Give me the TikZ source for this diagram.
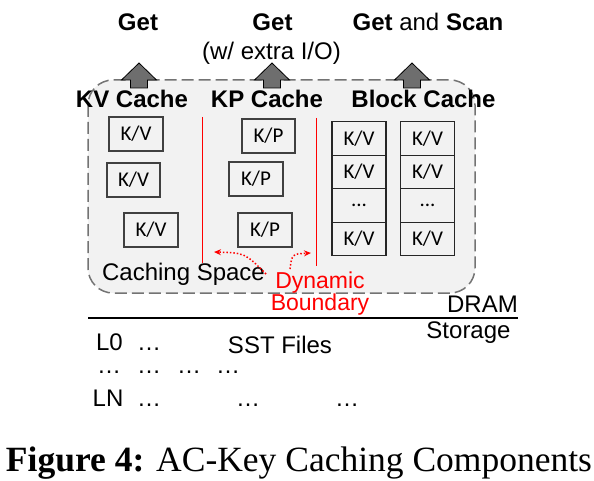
\documentclass[tikz,border=0pt]{standalone}
\usepackage{fontspec}
\setmainfont{Liberation Sans}
\newfontfamily\boxfont{Carlito}
\newfontfamily\capfont{Liberation Serif}
\usetikzlibrary{positioning, arrows.meta}
\tikzstyle{lbl} = [font=\fontsize{24}{26}\selectfont, inner sep=0pt, anchor=base]
\tikzstyle{head} = [lbl, font=\fontsize{24}{26}\selectfont\bfseries]
\tikzstyle{entry} = [rectangle, draw=black!75, line width=1.2pt, minimum width=54pt, minimum height=34pt, inner sep=0pt, font=\boxfont\fontsize{21}{22}\selectfont]
\tikzstyle{cell} = [entry, draw=black!85, minimum height=33.5pt, outer sep=0pt]
\tikzstyle{fatarrow} = [draw=black, line width=0.8pt, fill=black!57]
\tikzstyle{bound} = [red, line width=0.9pt]
\tikzstyle{boundmove} = [red, dotted, line width=1.5pt, -{Stealth[length=7pt,width=6pt]}]
\newcommand{\getarrow}[1]{\draw [fatarrow] (#1) -- ++(17.5,17) -- ++(-9,0) -- ++(0,8) -- ++(-17,0) -- ++(0,-8) -- ++(-9,0) -- cycle;}

\begin{document}
\begin{tikzpicture}[x=1pt, y=-1pt]
        \useasboundingbox (0,0) rectangle (594,481);
        % caching space
        \draw [black!55, dashed, dash pattern=on 12pt off 5pt, line width=1.5pt, fill=black!5, rounded corners=25pt] (88,80) rectangle (475,293);

        % requests
        \node (getkv) [head] at (138,31) {Get};
        \node (getkp) [head] at (272.5,31) {Get};
        \node (extra) [lbl] at (271.5,60) {(w/ extra I/O)};
        \node (getblk) [lbl] at (428,31) {\textbf{Get} and \textbf{Scan}};

        \coordinate (kvtip) at (139,63);
        \coordinate (kptip) at (272,63);
        \coordinate (blktip) at (412,63);
        \getarrow{kvtip}
        \getarrow{kptip}
        \getarrow{blktip}

        % caches
        \node (kvcache) [head] at (132,107.5) {KV Cache};
        \node (kpcache) [head] at (267,107.5) {KP Cache};
        \node (blkcache) [head] at (423.5,107.5) {Block Cache};

        \node (kv1) [entry] at (136,134) {K/V};
        \node (kv2) [entry, minimum width=53pt] at (133.5,180) {K/V};
        \node (kv3) [entry] at (151,230) {K/V};

        \node (kp1) [entry, minimum width=53pt] at (268.5,136) {K/P};
        \node (kp2) [entry] at (256,179) {K/P};
        \node (kp3) [entry] at (265,230) {K/P};

        \node (blka1) [cell] at (359,138.5) {K/V};
        \node (blka2) [cell, below=0pt of blka1] {K/V};
        \node (blka3) [cell, below=0pt of blka2] {...};
        \node (blka4) [cell, below=0pt of blka3] {K/V};
        \node (blkb1) [cell] at (427.5,138.5) {K/V};
        \node (blkb2) [cell, below=0pt of blkb1] {K/V};
        \node (blkb3) [cell, below=0pt of blkb2] {...};
        \node (blkb4) [cell, below=0pt of blkb3] {K/V};

        % dynamic boundary
        \coordinate (bnda) at (202,117);
        \coordinate (bndb) at (316,118);
        \draw [bound] (bnda) -- (202,263);
        \draw [bound] (bndb) -- (316,266);
        \node (space) [lbl] at (183.5,280) {Caching Space};
        \node (dyn) [lbl, red, align=center, anchor=base, font=\fontsize{23}{20}\selectfont] at (320,310.5) {Dynamic\\Boundary};
        \coordinate (dynl) at (266,274);
        \coordinate (dynr) at (290,269);
        \coordinate (tipl) at (214,252);
        \coordinate (tipr) at (311,253);
        \draw [boundmove] (dynl) .. controls (245,253) .. (tipl);
        \draw [boundmove] (dynr) .. controls (292,254) .. (tipr);

        % storage
        \coordinate (dramr) at (518,318);
        \draw [black, line width=1.6pt] (88,318) -- (dramr);
        \node (dram) [lbl, anchor=base east] at (518,312.5) {DRAM};
        \node (storage) [lbl] at (468.5,338) {Storage};

        \node (lzero) [lbl] at (109.5,350) {L0};
        \node (dzero) [lbl] at (149,350) {\textellipsis};
        \node (sst) [lbl] at (280,353) {SST Files};
        \node (dmid1) [lbl] at (109,373) {\textellipsis};
        \node (dmid2) [lbl] at (149,373) {\textellipsis};
        \node (dmid3) [lbl] at (189,373) {\textellipsis};
        \node (dmid4) [lbl] at (228,373) {\textellipsis};
        \node (ln) [lbl] at (108,406) {LN};
        \node (dln1) [lbl] at (149,406) {\textellipsis};
        \node (dln2) [lbl] at (248,406) {\textellipsis};
        \node (dln3) [lbl] at (347,406) {\textellipsis};

        % caption
        \node (caption) [anchor=base, inner sep=0pt, font=\capfont\fontsize{35.5}{38}\selectfont] at (299,471) {\textbf{Figure 4:} AC-Key Caching Components};
        \end{tikzpicture}
\end{document}
